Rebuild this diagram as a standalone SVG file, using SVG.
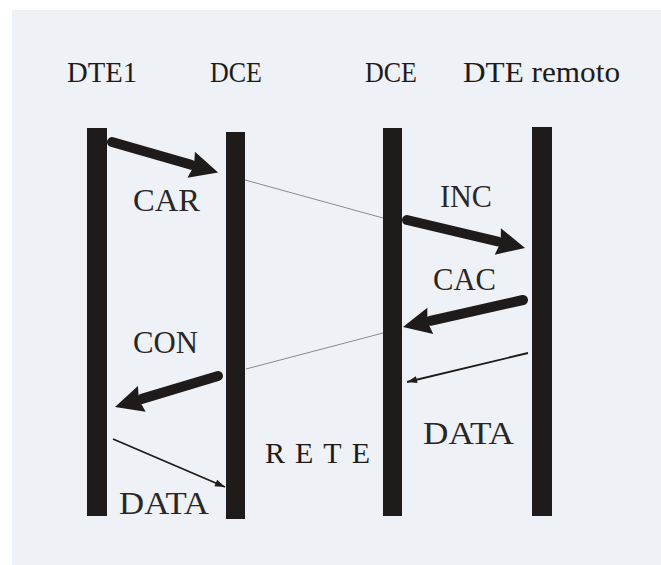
<svg xmlns="http://www.w3.org/2000/svg" width="661" height="565" viewBox="0 0 661 565">
  <defs>
    <style>
      .bar { fill: #1f1b1b; }
      .hdr { font-family: "Liberation Serif", "Times New Roman", serif; font-size: 30px; fill: #1f1b1b; }
      .lbl { font-family: "Liberation Serif", "Times New Roman", serif; font-size: 31px; fill: #2a2626; }
      .thick { stroke: #1f1b1b; stroke-width: 10; stroke-linecap: round; fill: none; }
      .thin { stroke: #1f1b1b; stroke-width: 1.8; fill: none; }
      .net { stroke: #8a8a8a; stroke-width: 1; fill: none; }
    </style>
    <marker id="bigHead" markerUnits="userSpaceOnUse" markerWidth="28" markerHeight="27" refX="0" refY="13.5" orient="auto" overflow="visible">
      <path d="M0,0 L28,13.5 L0,27 L3,13.5 z" fill="#1f1b1b"/>
    </marker>
    <marker id="smallHead" markerUnits="userSpaceOnUse" markerWidth="10" markerHeight="7" refX="10" refY="3.5" orient="auto" overflow="visible">
      <path d="M0,0 L10,3.5 L0,7 z" fill="#1f1b1b"/>
    </marker>
  </defs>

  <rect x="0" y="0" width="661" height="565" fill="#ffffff"/>
  <rect x="12" y="10" width="649" height="555" fill="#eef1f5"/>

  <g id="dte1">
    <rect class="bar" x="87" y="128" width="20" height="388"/>
    <text class="hdr" x="67" y="82" textLength="70" lengthAdjust="spacingAndGlyphs">DTE1</text>
  </g>
  <g id="dce1">
    <rect class="bar" x="226" y="132" width="19" height="387"/>
    <text class="hdr" x="210" y="82" textLength="52" lengthAdjust="spacingAndGlyphs">DCE</text>
  </g>
  <g id="dce2">
    <rect class="bar" x="383" y="128" width="19" height="388"/>
    <text class="hdr" x="365" y="82" textLength="52" lengthAdjust="spacingAndGlyphs">DCE</text>
  </g>
  <g id="dte-remoto">
    <rect class="bar" x="532" y="127" width="20" height="389"/>
    <text class="hdr" x="463" y="82" textLength="157" lengthAdjust="spacingAndGlyphs">DTE remoto</text>
  </g>

  <g id="connectors">
    <line class="thick" x1="112" y1="142" x2="191.2" y2="164.7" marker-end="url(#bigHead)"/>
    <line class="net" x1="245" y1="180" x2="383" y2="218"/>
    <line class="thick" x1="407" y1="220" x2="497.8" y2="241.5" marker-end="url(#bigHead)"/>
    <line class="thick" x1="523" y1="300" x2="430.3" y2="320.8" marker-end="url(#bigHead)"/>
    <line class="net" x1="383" y1="333" x2="246" y2="369"/>
    <line class="thick" x1="218" y1="376" x2="141.8" y2="398.9" marker-end="url(#bigHead)"/>
    <line class="thin" x1="528" y1="353" x2="407" y2="382" marker-end="url(#smallHead)"/>
    <line class="thin" x1="113" y1="439" x2="225" y2="487" marker-end="url(#smallHead)"/>
  </g>

  <g id="labels">
    <text class="lbl" x="133" y="211" textLength="67" lengthAdjust="spacingAndGlyphs">CAR</text>
    <text class="lbl" x="440" y="207" textLength="52" lengthAdjust="spacingAndGlyphs">INC</text>
    <text class="lbl" x="433" y="290" textLength="63" lengthAdjust="spacingAndGlyphs">CAC</text>
    <text class="lbl" x="133" y="353" textLength="65" lengthAdjust="spacingAndGlyphs">CON</text>
    <text class="lbl" x="423" y="444" textLength="91" lengthAdjust="spacingAndGlyphs">DATA</text>
    <text class="lbl" x="119" y="514" textLength="90" lengthAdjust="spacingAndGlyphs">DATA</text>
    <text class="hdr" x="265" y="463" textLength="105" lengthAdjust="spacing">RETE</text>
  </g>
</svg>
